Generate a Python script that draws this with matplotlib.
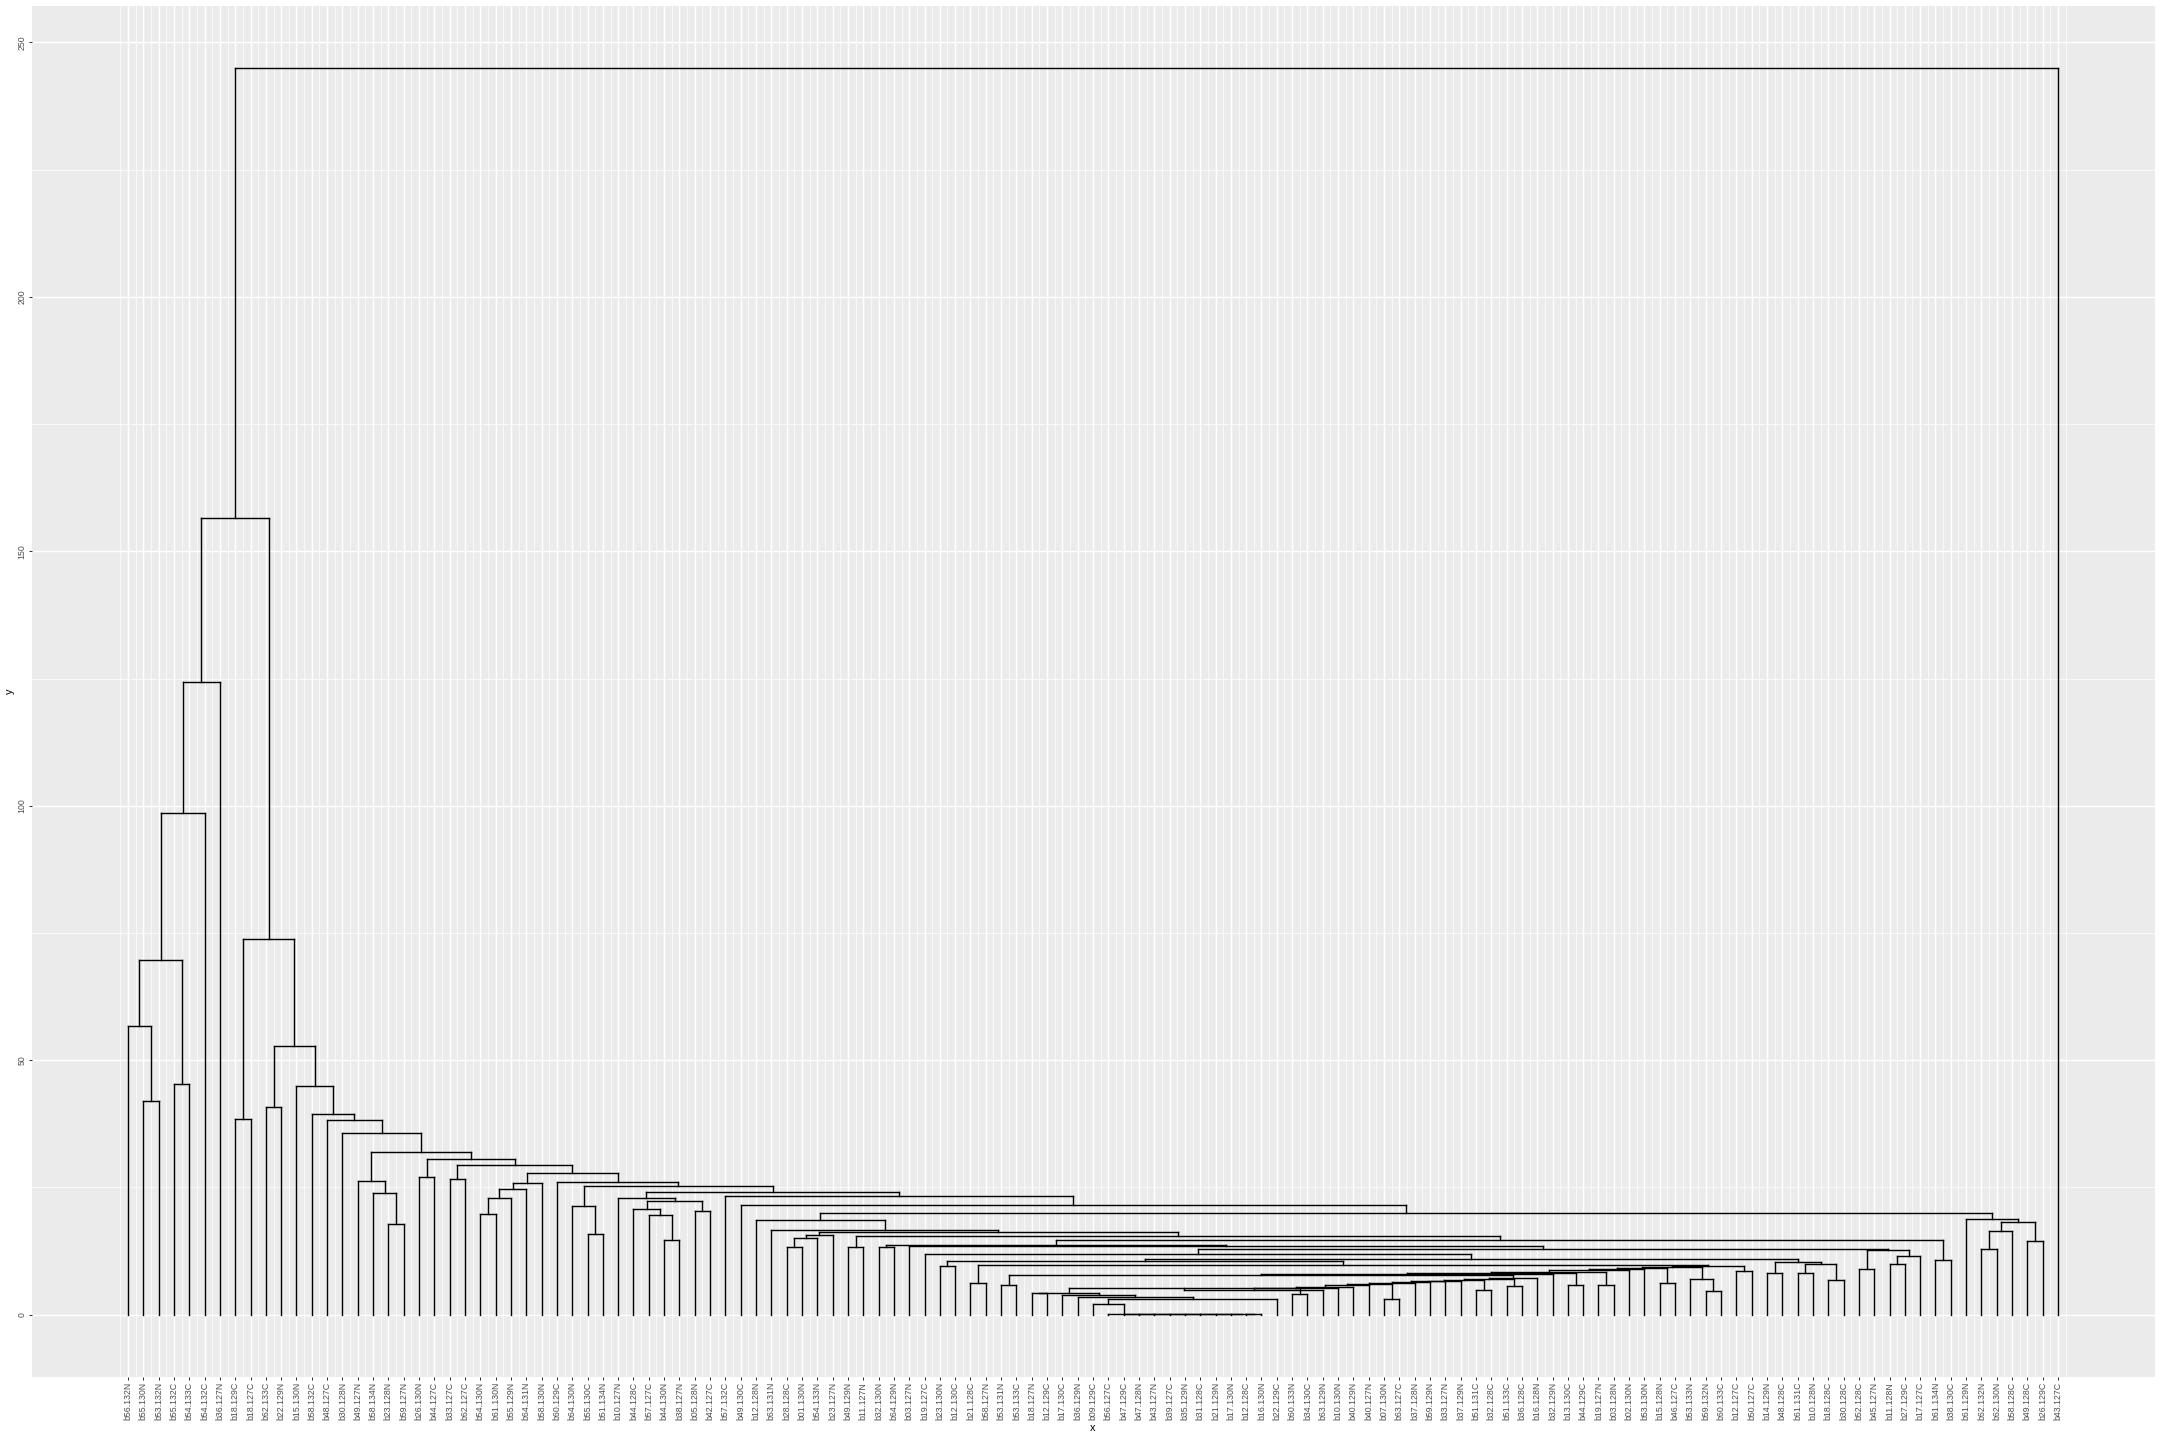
import matplotlib
matplotlib.use("Agg")
import matplotlib.pyplot as plt
from matplotlib.collections import LineCollection
import numpy as np

plt.rcParams['font.family'] = ['Liberation Sans', 'DejaVu Sans']

# ---- leaf labels (left to right) ----
labels = [
    "b56.132N", "b55.130N", "b53.132N", "b55.132C", "b54.133C", "b54.132C", "b36.127N",
    "b18.129C", "b18.127C", "b62.133C", "b22.129N", "b15.130N", "b58.132C", "b48.127C",
    "b30.128N", "b49.127N", "b58.134N", "b23.128N", "b59.127N", "b26.130N", "b44.127C",
    "b33.127C", "b62.127C", "b54.130N", "b61.130N", "b55.129N", "b64.131N", "b58.130N",
    "b60.129C", "b64.130N", "b55.130C", "b51.134N", "b10.127N", "b44.128C", "b57.127C",
    "b44.130N", "b38.127N", "b05.128N", "b42.127C", "b57.132C", "b49.130C", "b12.128N",
    "b63.131N", "b28.128C", "b01.130N", "b54.133N", "b23.127N", "b49.129N", "b11.127N",
    "b32.130N", "b64.129N", "b03.127N", "b19.127C", "b23.130N", "b12.130C", "b21.128C",
    "b58.127N", "b53.131N", "b53.133C", "b18.127N", "b12.129C", "b17.130C", "b36.129N",
    "b09.129C", "b56.127C", "b47.129C", "b47.128N", "b43.127N", "b39.127C", "b35.129N",
    "b31.128C", "b21.129N", "b17.130N", "b12.128C", "b16.130N", "b22.129C", "b60.133N",
    "b34.130C", "b63.129N", "b10.130N", "b40.129N", "b40.127N", "b07.130N", "b63.127C",
    "b37.128N", "b59.129N", "b33.127N", "b37.129N", "b51.131C", "b32.128C", "b51.133C",
    "b36.128C", "b16.128N", "b32.129N", "b13.130C", "b44.129C", "b19.127N", "b03.128N",
    "b02.130N", "b53.130N", "b15.128N", "b46.127C", "b53.133N", "b59.132N", "b60.133C",
    "b12.127C", "b50.127C", "b14.129N", "b48.128C", "b61.131C", "b10.128N", "b18.128C",
    "b30.128C", "b52.128C", "b45.127N", "b11.128N", "b27.129C", "b17.127C", "b61.134N",
    "b38.130C", "b61.129N", "b62.132N", "b62.130N", "b58.128C", "b49.128C", "b26.129C",
    "b43.127C",
]

# ---- merges: (node, left child, right child, height); ints are leaf indices ----
left_group = [
    ("a1", 1, 2, 41.9), ("a2", 0, "a1", 56.8), ("a3", 3, 4, 45.4),
    ("a4", "a2", "a3", 69.7), ("a5", "a4", 5, 98.6), ("a6", "a5", 6, 124.3),
    ("b1", 7, 8, 38.4), ("b2", 9, 10, 40.8),
]
middle_group = [
    ("d1", 17, 18, 17.8), ("d2", 16, "d1", 24.0), ("d3", 15, "d2", 26.3),
    ("e1", 19, 20, 27.1), ("e2", 21, 22, 26.7),
    ("f1", 23, 24, 19.7), ("f2", "f1", 25, 23.0), ("f3", "f2", 26, 24.6), ("f4", "f3", 27, 25.8),
    ("g1", 30, 31, 15.9), ("g2", 29, "g1", 21.3),
    ("h1", 35, 36, 14.6), ("h2", 34, "h1", 19.5), ("h3", 33, "h2", 20.7),
    ("h4", 37, 38, 20.3), ("h5", "h3", "h4", 22.3), ("h6", 32, "h5", 23.0),
]
right_group = [
    ("r1", 121, 122, 12.9), ("r2", "r1", 123, 16.5), ("r3", 124, 125, 14.5),
    ("r4", "r2", "r3", 18.3), ("r5", 120, "r4", 18.7),
    ("s1", 118, 119, 10.8),
    ("t1", 115, 116, 10.0), ("t2", "t1", 117, 11.6), ("t3", 113, 114, 9.0), ("t4", "t3", "t2", 12.8),
    ("u1", 107, 108, 8.2), ("u2", 109, 110, 8.2), ("u3", 111, 112, 6.9),
    ("u4", "u2", "u3", 9.9), ("u5", "u1", "u4", 10.3),
]
low_pairs = [
    ("v1", 105, 106, 8.5), ("v2", 103, 104, 4.64), ("v3", 102, "v2", 7.06),
    ("v4", 100, 101, 6.14), ("v5", 96, 97, 5.75), ("v6", 94, 95, 5.75),
    ("v7", 90, 91, 5.69), ("v8", 88, 89, 4.77), ("v9", 82, 83, 3.07),
    ("v10", 76, 77, 3.99), ("w1", 57, 58, 5.75), ("w2", 59, 60, 4.31),
    ("w3", 55, 56, 6.2), ("w4", 53, 54, 9.5),
]
zero_chain = [
    ("z9", 73, 74, 0.07), ("z8", 72, "z9", 0.07), ("z7", 71, "z8", 0.07),
    ("z6", 70, "z7", 0.07), ("z5", 69, "z6", 0.07), ("z4", 68, "z5", 0.07),
    ("z3", 67, "z4", 0.07), ("z2", 66, "z3", 0.07), ("z1", 65, "z2", 0.07),
    ("z0", 64, "z1", 0.07),
    ("l1", 63, "z0", 2.16), ("l2", "l1", 75, 3.14), ("l3", 62, "l2", 3.46),
    ("l4", 61, "l3", 3.92), ("l5", "w2", "l4", 4.31),
]
low_chain = [
    ("c1", "l5", "v10", 5.2), ("c2", "c1", 78, 4.77), ("c3", "c2", 79, 5.23),
    ("c4", "c3", 80, 5.49), ("c5", "c4", 81, 5.75), ("c6", "c5", "v9", 5.95),
    ("c7", "c6", 84, 6.14), ("c8", "c7", 85, 6.34), ("c9", "c8", 86, 6.54),
    ("c10", "c9", 87, 6.67), ("c11", "c10", "v8", 6.86), ("c12", "c11", "v7", 7.06),
    ("c13", "c12", 92, 7.19), ("c14", "w1", "c13", 7.84), ("c15", "c14", 93, 8.04),
    ("c16", "c15", "v6", 8.24), ("c17", "c16", "v5", 8.37), ("c18", "c17", 98, 8.69),
    ("c19", "c18", 99, 8.89), ("c20", "c19", "v4", 9.22), ("c21", "c20", "v3", 9.40),
    ("x7", "c21", "v1", 9.48),
]
spine_chain = [
    ("x6", "w3", "x7", 9.74), ("x5", "w4", "x6", 10.5), ("x4", "x5", "u5", 11.0),
    ("x3", 52, "x4", 12.0), ("x2", "x3", "t4", 12.9), ("x1", 51, "x2", 13.5),
    ("w5", 49, 50, 13.2), ("q1", "w5", "x1", 13.7), ("q2", "q1", "s1", 14.7),
    ("w6", 47, 48, 13.3), ("q3", "w6", "q2", 15.4),
    ("k1", 43, 44, 13.3), ("k2", "k1", 45, 15.0), ("k3", "k2", 46, 15.6),
    ("q4", "k3", "q3", 16.2), ("q5", 42, "q4", 16.7), ("q6", 41, "q5", 18.6),
    ("q7", "q6", "r5", 19.9), ("q8", 40, "q7", 21.5), ("q9", 39, "q8", 23.3),
    ("p1", "h6", "q9", 24.2), ("p2", "g2", "p1", 25.2), ("p3", 28, "p2", 26.1),
    ("p4", "f4", "p3", 27.9), ("p5", "e2", "p4", 29.4), ("p6", "e1", "p5", 30.5),
    ("p7", "d3", "p6", 31.9), ("p8", 14, "p7", 35.7), ("p9", 13, "p8", 38.3),
    ("p10", 12, "p9", 39.4), ("p11", 11, "p10", 44.9), ("p12", "b2", "p11", 52.7),
    ("p13", "b1", "p12", 73.8), ("top1", "a6", "p13", 156.5), ("root", "top1", 126, 245.0),
]

merges = left_group + middle_group + right_group + low_pairs + zero_chain + low_chain + spine_chain

# ---- build segments (ggdendro style) ----
pos = {i: i + 1 for i in range(len(labels))}
hgt = {i: 0.0 for i in range(len(labels))}
segs = []
for name, a, b, h in merges:
    pos[name] = (pos[a] + pos[b]) / 2.0
    hgt[name] = h
    segs.append([(pos[a], h), (pos[b], h)])
    segs.append([(pos[a], hgt[a]), (pos[a], h)])
    segs.append([(pos[b], hgt[b]), (pos[b], h)])

W, H = 2160, 1440
fig = plt.figure(figsize=(W / 72, H / 72), dpi=72)
fig.patch.set_facecolor("white")
pl, pr, pt, pb = 31.5, 2154.5, 5.5, 1377
ax = fig.add_axes([pl / W, 1 - pb / H, (pr - pl) / W, (pb - pt) / H])
ax.set_facecolor("#EBEBEB")
for s in ax.spines.values():
    s.set_visible(False)

n = len(labels)
xpad = 0.05 * (n - 1)
ax.set_xlim(1 - xpad, n + xpad)
ymax = max(hgt.values())
ax.set_ylim(-0.05 * ymax, ymax * 1.05)

# grid (ggplot2 grey theme)
xt = np.arange(1, n + 1)
for xv in np.arange(0.5, n + 1, 1.0):
    ax.axvline(xv, color="white", lw=0.71, zorder=0)
for xv in xt:
    ax.axvline(xv, color="white", lw=1.42, zorder=0)
for yv in [25, 75, 125, 175, 225]:
    ax.axhline(yv, color="white", lw=0.71, zorder=0)
for yv in [0, 50, 100, 150, 200, 250]:
    ax.axhline(yv, color="white", lw=1.42, zorder=0)

lc = LineCollection(segs, colors="black", linewidths=1.42, capstyle="projecting", zorder=3)
ax.add_collection(lc)

ax.set_xticks(xt)
ax.set_xticklabels(labels, rotation=90, fontsize=8.8, color="#4D4D4D")
ax.set_yticks([0, 50, 100, 150, 200, 250])
ax.set_yticklabels(["0", "50", "100", "150", "200", "250"], rotation=90, va="center",
                   fontsize=8.8, color="#4D4D4D")
ax.tick_params(axis="both", length=2.75, width=1.0, color="#333333", pad=2.2)
ax.set_xlabel("x", fontsize=11, labelpad=3)
ax.set_ylabel("y", fontsize=11, labelpad=3)

fig.savefig("out.png", dpi=72, facecolor="white")
